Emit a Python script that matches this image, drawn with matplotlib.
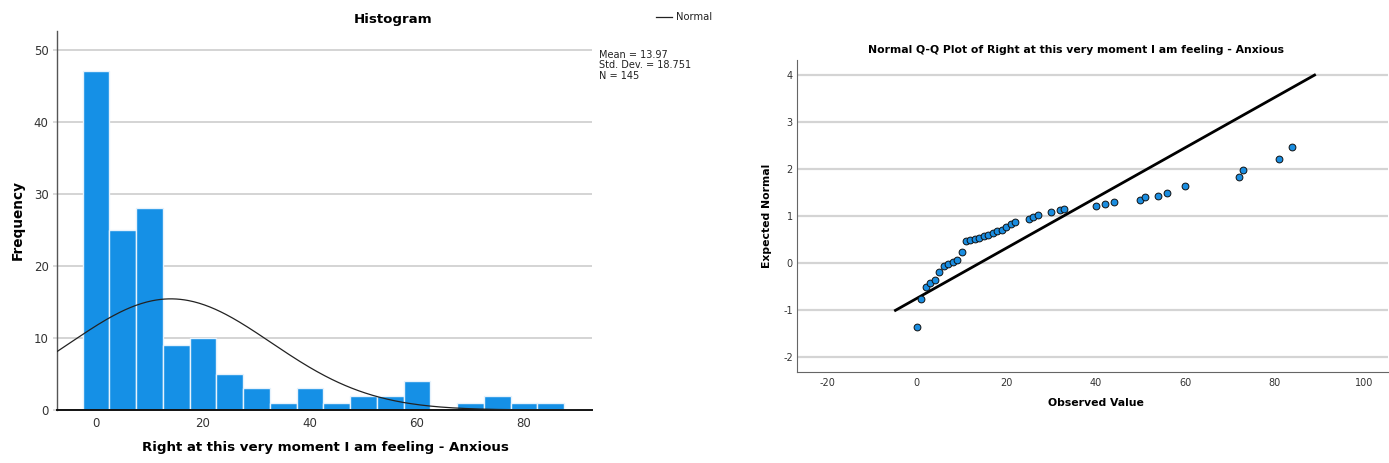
import numpy as np
import matplotlib
matplotlib.use("Agg")
import matplotlib.pyplot as plt

# ---- Data ----
bin_centers = [0, 5, 10, 15, 20, 25, 30, 35, 40, 45, 50, 55, 60, 65, 70, 75, 80, 85]
bin_counts = [47, 25, 28, 9, 10, 5, 3, 1, 3, 1, 2, 2, 4, 0, 1, 2, 1, 1]
bin_width = 5
mean_val = 13.97
sd_val = 18.751
n_val = 145

qq_observed = [0, 1, 2, 3, 4, 5, 6, 7, 8, 9, 10, 11, 12, 13, 14, 15, 16, 17, 18, 19,
               20, 21, 22, 25, 26, 27, 30, 32, 33, 40, 42, 44, 50, 51, 54, 56, 60,
               72, 73, 81, 84]
qq_expected = [-1.36, -0.75, -0.51, -0.42, -0.36, -0.19, -0.06, -0.02, 0.02, 0.06,
               0.25, 0.47, 0.49, 0.51, 0.53, 0.57, 0.61, 0.64, 0.68, 0.71,
               0.77, 0.83, 0.88, 0.94, 0.98, 1.03, 1.08, 1.13, 1.16, 1.22,
               1.27, 1.31, 1.35, 1.40, 1.44, 1.50, 1.64, 1.83, 1.99, 2.21, 2.47]

hist_xticks = [0, 20, 40, 60, 80]
hist_yticks = [0, 10, 20, 30, 40, 50]
qq_xticks = [-20, 0, 20, 40, 60, 80, 100]
qq_yticks = [-2, -1, 0, 1, 2, 3, 4]

plt.rcParams['font.family'] = ['DejaVu Sans']
plt.rcParams['axes.unicode_minus'] = False

W, H = 1389, 463
fig = plt.figure(figsize=(W / 100, H / 100), dpi=100)

bar_color = '#1590e6'
grid_color = '#d4d4d4'
tick_color = '#333333'

def fx(px):
    return px / W

def fy(py):
    return 1 - py / H

# ---- Histogram ----
ax1 = fig.add_axes([fx(57), fy(410), fx(592 - 57), (410 - 31) / H])
ax1.bar(bin_centers, bin_counts, width=bin_width, color=bar_color,
        edgecolor='#e6f2fc', linewidth=1.0, zorder=2)
xs = np.linspace(-7.3, 92.7, 400)
pdf = n_val * bin_width / (sd_val * np.sqrt(2 * np.pi)) * np.exp(-0.5 * ((xs - mean_val) / sd_val) ** 2)
ax1.plot(xs, pdf, color='#222222', linewidth=0.9, zorder=3)
ax1.set_xlim(-7.3, 92.7)
ax1.set_ylim(0, 52.6)
ax1.set_xticks(hist_xticks)
ax1.set_yticks(hist_yticks)
ax1.tick_params(axis='x', length=0, labelsize=8.5, colors=tick_color, pad=5)
ax1.tick_params(axis='y', length=3, width=1.2, color=grid_color, labelsize=8.5,
                labelcolor=tick_color, pad=3)
ax1.grid(axis='y', color=grid_color, linewidth=1.4, zorder=0)
ax1.set_axisbelow(True)
for s in ['top', 'right']:
    ax1.spines[s].set_visible(False)
ax1.spines['left'].set_color('#555555')
ax1.spines['left'].set_linewidth(1.0)
ax1.spines['bottom'].set_color('#111111')
ax1.spines['bottom'].set_linewidth(1.4)

fig.text(fx(325), fy(448), 'Right at this very moment I am feeling - Anxious', fontsize=9.6,
         fontweight='bold', ha='center', va='center')
fig.text(fx(18), fy(220), 'Frequency', fontsize=9.8, fontweight='bold', rotation=90,
         ha='center', va='center')
fig.text(fx(393), fy(19), 'Histogram', fontsize=9.6, fontweight='bold',
         ha='center', va='center')
fig.add_artist(plt.Line2D([fx(656), fx(672)], [fy(17), fy(17)], color='#222222',
                          linewidth=0.9))
fig.text(fx(676), fy(17), 'Normal', fontsize=7.2, ha='left', va='center', color='#222222')
fig.text(fx(599), fy(50), 'Mean = %.2f\nStd. Dev. = %.3f\nN = %d' % (mean_val, sd_val, n_val),
         fontsize=7.0, ha='left', va='top', color='#222222', linespacing=1.05)

# ---- Q-Q plot ----
ax2 = fig.add_axes([fx(797), fy(372), fx(1388 - 797), (372 - 60) / H])
line_x = np.array([mean_val - sd_val, mean_val + 4 * sd_val])
line_y = (line_x - mean_val) / sd_val
ax2.plot(line_x, line_y, color='black', linewidth=2.0, zorder=3)
ax2.scatter(qq_observed, qq_expected, s=24, facecolor='#1a8de0', edgecolor='#111111',
            linewidth=0.7, zorder=4)
ax2.set_xlim(-26.8, 105.4)
ax2.set_ylim(-2.31, 4.32)
ax2.set_xticks(qq_xticks)
ax2.set_yticks(qq_yticks)
ax2.tick_params(axis='both', length=0, labelsize=7, colors=tick_color)
ax2.tick_params(axis='x', pad=4.5)
ax2.tick_params(axis='y', pad=3)
ax2.grid(axis='y', color=grid_color, linewidth=1.6, zorder=0)
ax2.set_axisbelow(True)
for s in ['top', 'right']:
    ax2.spines[s].set_visible(False)
ax2.spines['left'].set_color('#666666')
ax2.spines['bottom'].set_color('#666666')
fig.text(fx(1096), fy(403), 'Observed Value', fontsize=7.8, fontweight='bold',
         ha='center', va='center')
fig.text(fx(767), fy(216), 'Expected Normal', fontsize=7.8, fontweight='bold', rotation=90,
         ha='center', va='center')
fig.text(fx(1076), fy(50), 'Normal Q-Q Plot of Right at this very moment I am feeling - Anxious',
         fontsize=7.8, fontweight='bold', ha='center', va='center')

fig.savefig('out.png', dpi=100)
